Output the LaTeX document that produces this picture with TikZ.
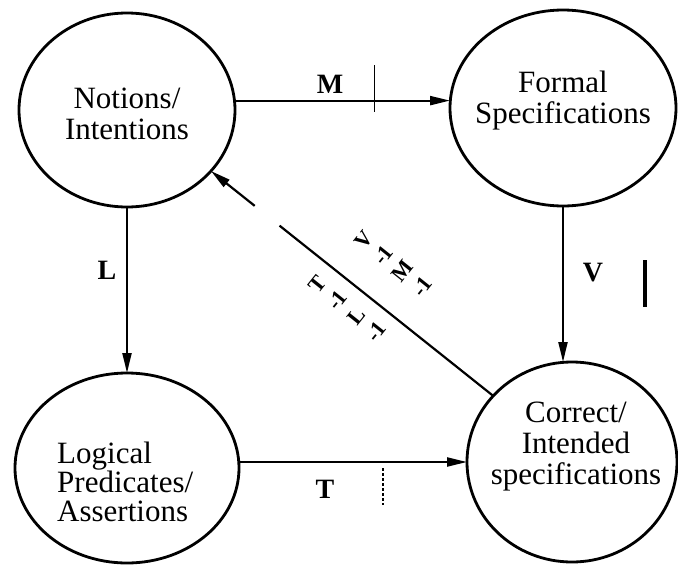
\documentclass[tikz,border=0pt]{standalone}
\usepackage{fontspec}
\setmainfont{Liberation Serif}
\usetikzlibrary{shapes.geometric,arrows.meta,calc}
\begin{document}
\begin{tikzpicture}[x=1pt,y=-1pt,
  circ/.style={ellipse,draw,line width=2.8pt,inner sep=0pt,outer sep=0pt},
  txt/.style={font=\fontsize{31}{31}\selectfont,align=center,inner sep=0pt},
  lbl/.style={font=\fontsize{28}{28}\selectfont\bfseries,inner sep=0pt},
  rot/.style={rotate=51.4,align=center,font=\fontsize{22}{25}\selectfont\bfseries,inner sep=0pt},
  arr/.style={line width=2.2pt,-{Triangle[length=20pt,width=9pt]}},
  conn/.style={line width=2.2pt}]
\useasboundingbox (0,0) rectangle (678,565);
% ellipses
\node[circ,minimum width=216pt,minimum height=194pt] (N) at (127,110) {};
\node[circ,minimum width=226pt,minimum height=196pt] (F) at (563,108) {};
\node[circ,minimum width=224pt,minimum height=190pt] (Lg) at (127,468) {};
\node[circ,minimum width=210pt,minimum height=200pt] (C) at (572,462) {};
% texts
\node[txt] (Nt) at (127,114) {Notions/\\Intentions};
\node[txt] (Ft) at (563,101) {Formal\\Specifications};
\node[txt,align=left,anchor=west,font=\fontsize{31}{29}\selectfont] (Lt) at (57,482) {Logical\\Predicates/\\Assertions};
\node[txt] (Ct) at (576,447) {Correct/\\Intended\\specifications};
% connectors
\draw[arr] (N.5) -- (N.5 -| F.west);
\draw[arr] (N.south) -- (Lg.north);
\draw[arr] (F.south) -- (F.south |- C.north);
\draw[arr] (Lg.east |- C.west) -- (C.west);
\coordinate (g1) at ($(N.-36)!0.155!(C.140)$);
\coordinate (g2) at ($(N.-36)!0.243!(C.140)$);
\draw[conn] (C.140) -- (g2);
\draw[arr] (g1) -- (N.-36);
% labels
\node[lbl] (Ml) at (330,84) {M};
\node[lbl] (Ll) at (107,270) {L};
\node[lbl] (Vl) at (593,273) {V};
\node[lbl] (Tl) at (325,489) {T};
\node[rot] (VM) at (393,263) {V\\-1\\M\\-1};
\node[rot] (TL) at (347,308) {T\\-1\\L\\-1};
% marks
\draw[line width=1pt] (374,65) -- (374,112);
\draw[line width=4pt] (645,260) -- (645,307);
\draw[line width=1.3pt,dash pattern=on 3pt off 2pt] (383,468) -- (383,505);
\end{tikzpicture}
\end{document}
